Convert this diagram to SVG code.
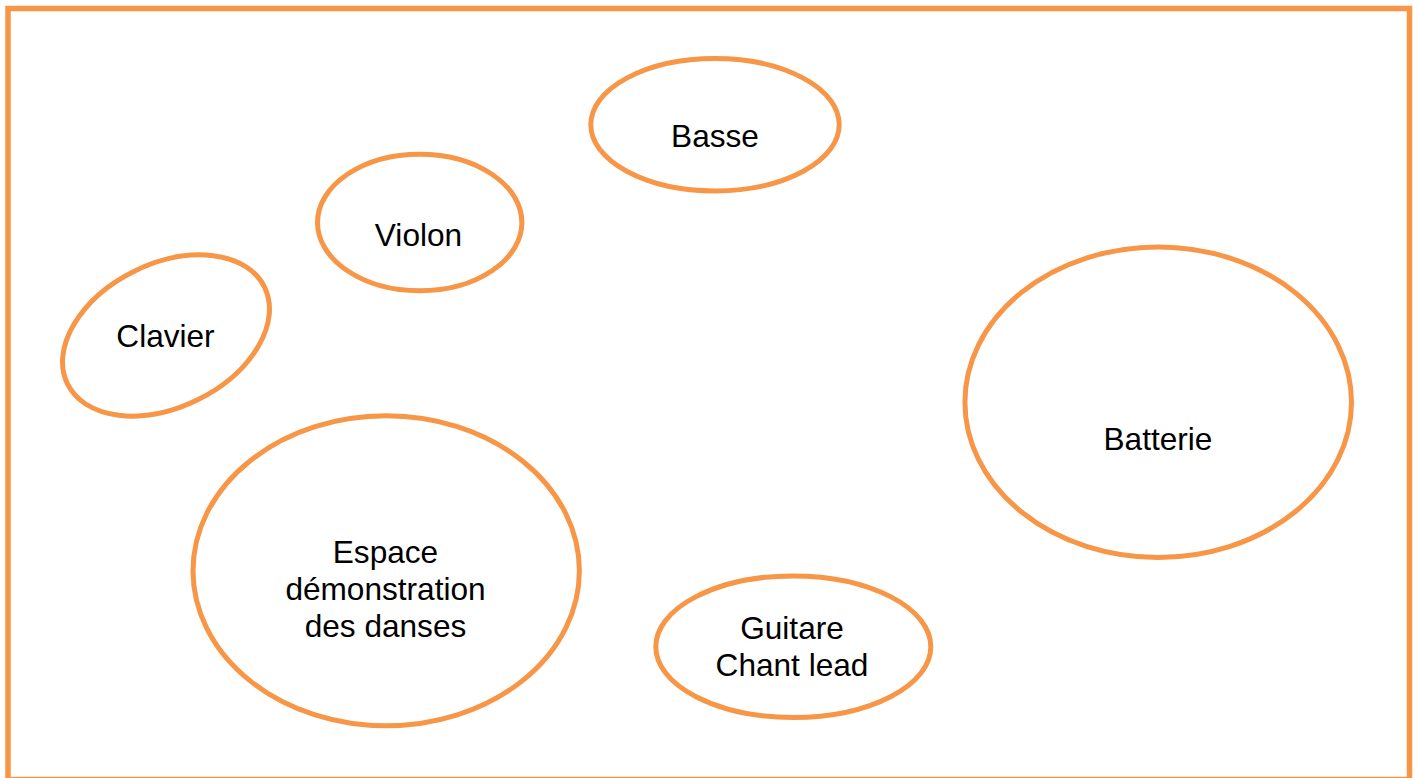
<svg xmlns="http://www.w3.org/2000/svg" width="1417" height="778" viewBox="0 0 1417 778">
  <style>
    .frame { fill: #FFFFFF; stroke: #F79646; stroke-width: 5.5; }
    .zone { fill: #FFFFFF; stroke: #F79646; stroke-width: 5; }
    .label { font-family: "Liberation Sans", Arial, sans-serif; font-size: 31.6px; fill: #000000; text-anchor: middle; }
  </style>
  <rect x="0" y="0" width="1417" height="778" fill="#FFFFFF"/>
  <!-- stage outline -->
  <rect class="frame" x="8" y="8.5" width="1401.5" height="771"/>

  <g id="connectors"/>

  <g id="basse">
    <ellipse class="zone" cx="715" cy="124.7" rx="124.2" ry="66.2"/>
    <text class="label" x="715" y="146.5">Basse</text>
  </g>

  <g id="violon">
    <ellipse class="zone" cx="419.7" cy="222.5" rx="102.2" ry="68.3"/>
    <text class="label" x="418.5" y="246">Violon</text>
  </g>

  <g id="clavier">
    <ellipse class="zone" cx="166" cy="335.5" rx="109.8" ry="71.7" transform="rotate(-26.2 166 335.5)"/>
    <text class="label" x="165.5" y="346.5">Clavier</text>
  </g>

  <g id="batterie">
    <ellipse class="zone" cx="1158.2" cy="402.2" rx="193.3" ry="155.3"/>
    <text class="label" x="1158" y="450">Batterie</text>
  </g>

  <g id="espace-danses">
    <ellipse class="zone" cx="386.2" cy="570.8" rx="193.2" ry="155"/>
    <text class="label" x="385.5" y="563.3">Espace</text>
    <text class="label" x="385.5" y="600">démonstration</text>
    <text class="label" x="385.5" y="636.7">des danses</text>
  </g>

  <g id="guitare-chant">
    <ellipse class="zone" cx="793.3" cy="646.7" rx="137.5" ry="70.8"/>
    <text class="label" x="792" y="639">Guitare</text>
    <text class="label" x="792" y="676">Chant lead</text>
  </g>
</svg>
